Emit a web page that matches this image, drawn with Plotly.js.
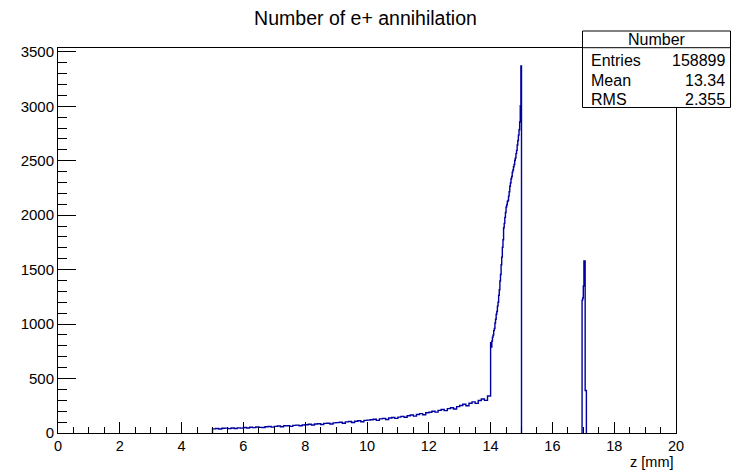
<!DOCTYPE html>
<html>
<head>
<meta charset="utf-8">
<script src="https://cdn.plot.ly/plotly-3.0.1.min.js"></script>
<style>html,body{margin:0;padding:0;background:#fff;}#chart{width:731px;height:470px;}</style>
</head>
<body>
<div id="chart"></div>
<script>
// ---- data ----
const titleText = "Number of e+ annihilation";
const xTitle = "z [mm]";
const xTickVals = [0, 2, 4, 6, 8, 10, 12, 14, 16, 18, 20];
const yTickVals = [0, 500, 1000, 1500, 2000, 2500, 3000, 3500];

// low region: bins of 0.1 mm from 5.0 to 14.0
const lowStart = 5.0;
const lowWidth = 0.1;
const lowCounts = [
  38, 42, 37, 43, 45, 40, 46, 42, 47, 45,
  50, 46, 53, 49, 55, 52, 50, 57, 59, 54,
  61, 64, 58, 66, 67, 61, 70, 72, 66, 74,
  76, 80, 74, 83, 85, 78, 88, 90, 83, 93,
  95, 99, 90, 102, 106, 97, 108, 112, 103, 116,
  118, 122, 126, 116, 130, 134, 124, 138, 143, 134,
  146, 153, 144, 158, 165, 155, 170, 178, 168, 186,
  190, 200, 192, 208, 216, 205, 224, 232, 220, 242,
  252, 264, 250, 273, 286, 272, 298, 312, 300, 340
];

// steep region: bins of 0.02 mm from 14.00 to 15.00
const riseStart = 14.0;
const riseWidth = 0.02;
const riseCounts = [
  830, 790, 845, 880, 900, 940, 960, 1010, 1045, 1090,
  1115, 1165, 1200, 1265, 1315, 1395, 1455, 1545, 1615, 1705,
  1775, 1885, 1925, 1980, 2025, 2075, 2095, 2125, 2135, 2175,
  2215, 2265, 2295, 2335, 2355, 2395, 2415, 2445, 2465, 2505,
  2525, 2565, 2595, 2645, 2685, 2735, 2785, 2855, 3005, 3370
];

// second peak: bins of 0.02 mm from 16.96
const peakStart = 16.96;
const peakWidth = 0.02;
const peakCounts = [1220, 1240, 1350, 1580, 1580, 390, 390];

const statsHeader = "Number";
const statsLabels = ["Entries", "Mean", "RMS"];
const statsValues = ["158899", "13.34", "2.355"];

// ---- build histogram outline from bins ----
function histPath(segs) {
  const xs = [], ys = [];
  segs.forEach((seg, k) => {
    if (k > 0) { xs.push(null); ys.push(null); }
    xs.push(seg.edges[0]); ys.push(0);
    for (let i = 0; i < seg.counts.length; i++) {
      xs.push(seg.edges[i]); ys.push(seg.counts[i]);
    }
    xs.push(seg.edges[seg.counts.length]); ys.push(0);
  });
  return {xs, ys};
}
function edgesOf(start, width, n) {
  const e = [];
  for (let i = 0; i <= n; i++) e.push(+(start + i * width).toFixed(4));
  return e;
}
const mainEdges = edgesOf(lowStart, lowWidth, lowCounts.length)
  .concat(edgesOf(riseStart, riseWidth, riseCounts.length).slice(1));
const mainCounts = lowCounts.concat(riseCounts);
const path = histPath([
  {edges: mainEdges, counts: mainCounts},
  {edges: edgesOf(peakStart, peakWidth, peakCounts.length), counts: peakCounts}
]);

const lineColor = "#0000a0";
const font = "'Liberation Sans', Arial, Helvetica, sans-serif";

const trace = {
  x: path.xs, y: path.ys, type: "scatter", mode: "lines",
  line: {shape: "hv", color: lineColor, width: 1.4},
  connectgaps: false, hoverinfo: "skip"
};

// pixel → paper helpers for the stats box
const L = 58, R = 55, T = 48, B = 37, W = 731, H = 470;
const pw = W - L - R, ph = H - T - B;
const px = v => (v - L) / pw;
const py = v => (H - B - v) / ph;

const boxL = 582.5, boxR = 730.5, boxT = 31, boxB = 107.5, hdrB = 47.7;
const rowY = [60, 80, 99.5];

const shapes = [
  {type: "rect", xref: "paper", yref: "paper", x0: px(boxL), x1: px(boxR), y0: py(boxB), y1: py(boxT),
   line: {color: "black", width: 1}, fillcolor: "white", layer: "above"},
  {type: "line", xref: "paper", yref: "paper", x0: px(boxL), x1: px(boxR), y0: py(hdrB), y1: py(hdrB),
   line: {color: "black", width: 1}, layer: "above"}
];
const annotations = [
  {xref: "paper", yref: "paper", x: px((boxL + boxR) / 2), y: py(39.5), text: statsHeader, showarrow: false,
   xanchor: "center", yanchor: "middle", font: {family: font, size: 16, color: "black"}},
  {xref: "paper", yref: "paper", x: 1, y: py(461.5), text: xTitle, showarrow: false,
   xanchor: "right", yanchor: "middle", font: {family: font, size: 14.5, color: "black"}}
];
statsLabels.forEach((lab, i) => {
  annotations.push({xref: "paper", yref: "paper", x: px(589), y: py(rowY[i]), text: lab, showarrow: false,
    xanchor: "left", yanchor: "middle", font: {family: font, size: 16, color: "black"}});
  annotations.push({xref: "paper", yref: "paper", x: px(727), y: py(rowY[i]), text: statsValues[i], showarrow: false,
    xanchor: "right", yanchor: "middle", font: {family: font, size: 16, color: "black"}});
});

const layout = {
  width: W, height: H,
  margin: {l: L, r: R, t: T, b: B, pad: 0},
  paper_bgcolor: "white", plot_bgcolor: "white",
  showlegend: false,
  font: {family: font, color: "black"},
  title: {text: titleText, x: 0.5, xanchor: "center", xref: "container", y: 1 - 18 / H, yanchor: "middle", yref: "container",
          font: {family: font, size: 19.5, color: "black"}},
  xaxis: {
    range: [0, 20], tickvals: xTickVals, ticktext: xTickVals.map(String),
    ticks: "inside", ticklen: 11, tickwidth: 1, tickcolor: "black",
    minor: {dtick: 0.5, tick0: 0, ticks: "inside", ticklen: 6, tickwidth: 1, tickcolor: "black"},
    showline: true, linecolor: "black", linewidth: 1, mirror: true,
    showgrid: false, zeroline: false, tickfont: {family: font, size: 14.5, color: "black"}
  },
  yaxis: {
    range: [0, 3535], tickvals: yTickVals, ticktext: yTickVals.map(String),
    ticks: "inside", ticklen: 18, tickwidth: 1, tickcolor: "black",
    minor: {dtick: 100, tick0: 0, ticks: "inside", ticklen: 9, tickwidth: 1, tickcolor: "black"},
    showline: true, linecolor: "black", linewidth: 1, mirror: true,
    showgrid: false, zeroline: false, tickfont: {family: font, size: 15, color: "black"}
  },
  shapes: shapes,
  annotations: annotations
};

Plotly.newPlot("chart", [trace], layout, {staticPlot: true, displayModeBar: false});
</script>
</body>
</html>
